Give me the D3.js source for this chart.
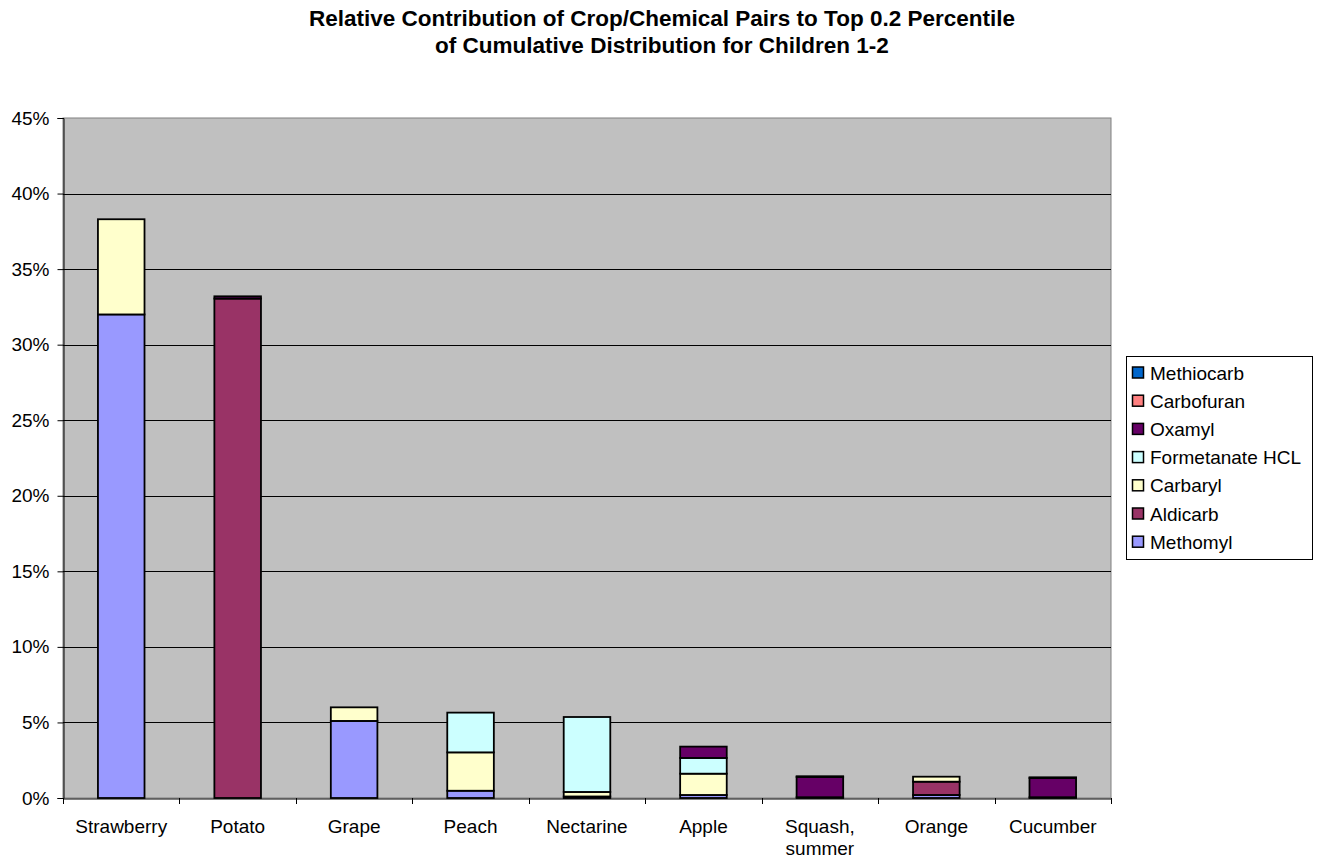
<!DOCTYPE html>
<html>
<head>
<meta charset="utf-8">
<script src="https://cdn.jsdelivr.net/npm/d3@7"></script>
<style>
  html, body { margin: 0; padding: 0; background: #ffffff; }
  svg { display: block; font-family: Arial, "Liberation Sans", sans-serif; }
</style>
</head>
<body>
<svg id="chart" width="1321" height="861"></svg>
<script>
// Crops along the x axis
const crops = ["Strawberry", "Potato", "Grape", "Peach", "Nectarine", "Apple", "Squash, summer", "Orange", "Cucumber"];

// Chemicals, stacked bottom to top
const chemicals = ["Methomyl", "Aldicarb", "Carbaryl", "Formetanate HCL", "Oxamyl", "Carbofuran", "Methiocarb"];

// Percent contribution of each chemical, per crop (same order as crops)
const methomyl    = [32.0, 0,    5.1, 0.48, 0.1,  0.2,  0.05, 0.2,  0.05];
const aldicarb    = [0,    33.05, 0,   0,    0,    0,    0,    0.88, 0];
const carbaryl    = [6.3,  0,    0.9, 2.54, 0.3,  1.41, 0,    0.33, 0];
const formetanate = [0,    0,    0,   2.63, 4.96, 1.04, 0,    0,    0];
const oxamyl      = [0,    0.15, 0,   0,    0,    0.75, 1.34, 0,    1.27];
const carbofuran  = [0,    0,    0,   0,    0,    0,    0.05, 0,    0.05];
const methiocarb  = [0,    0,    0,   0,    0,    0,    0,    0,    0];

const colors = ["#9999FF", "#993366", "#FFFFCC", "#CCFFFF", "#660066", "#FF8080", "#0066CC"];

const yTicks = [0, 5, 10, 15, 20, 25, 30, 35, 40, 45];

const titleLines = [
  "Relative Contribution of Crop/Chemical Pairs to Top 0.2 Percentile",
  "of Cumulative Distribution for Children 1-2"
];

const series = [methomyl, aldicarb, carbaryl, formetanate, oxamyl, carbofuran, methiocarb];
const rows = crops.map((c, i) => {
  const r = { crop: c };
  chemicals.forEach((k, j) => { r[k] = series[j][i]; });
  return r;
});

const svg = d3.select("#chart");
const plot = { left: 63, right: 1111, top: 118, bottom: 798 };

const x = d3.scaleBand().domain(crops).range([plot.left, plot.right]).paddingInner(0.6).paddingOuter(0.3);
const xTickScale = d3.scaleBand().domain(crops).range([plot.left, plot.right]);
const y = d3.scaleLinear().domain([0, 45]).range([plot.bottom, plot.top]);

// Title
svg.append("g").selectAll("text").data(titleLines).join("text")
  .attr("x", 662).attr("y", (d, i) => 26 + i * 27)
  .attr("text-anchor", "middle")
  .attr("font-size", 22.5).attr("font-weight", "bold").attr("fill", "#000")
  .text(d => d);

// Plot area background
svg.append("rect")
  .attr("x", plot.left).attr("y", plot.top)
  .attr("width", plot.right - plot.left).attr("height", plot.bottom - plot.top)
  .attr("fill", "#C0C0C0").attr("stroke", "#808080").attr("stroke-width", 1);

// Gridlines
svg.append("g").selectAll("line").data(yTicks.filter(t => t > 0 && t < 45)).join("line")
  .attr("x1", plot.left).attr("x2", plot.right)
  .attr("y1", d => Math.round(y(d)) + 0.5).attr("y2", d => Math.round(y(d)) + 0.5)
  .attr("stroke", "#000").attr("stroke-width", 1);

// Stacked bars
const stack = d3.stack().keys(chemicals)(rows);
svg.append("g").selectAll("g").data(stack).join("g")
  .attr("fill", (d, i) => colors[i])
  .selectAll("rect").data(d => d.filter(s => s[1] - s[0] > 0)).join("rect")
  .attr("x", d => x(d.data.crop))
  .attr("width", x.bandwidth())
  .attr("y", d => y(d[1]))
  .attr("height", d => y(d[0]) - y(d[1]))
  .attr("stroke", "#000").attr("stroke-width", 1.8);

// Y axis
const yAxis = d3.axisLeft(y).tickValues(yTicks).tickFormat(d => d + "%").tickSize(6).tickPadding(8);
const yg = svg.append("g").attr("transform", `translate(${plot.left + 0.5},0)`).call(yAxis);
yg.select(".domain").attr("stroke", "#000");
yg.selectAll(".tick line").attr("stroke", "#000");
yg.selectAll(".tick text").attr("font-size", 19).attr("fill", "#000").attr("font-family", "Arial, 'Liberation Sans', sans-serif");

// X axis
const xAxis = d3.axisBottom(xTickScale).tickSize(0).tickFormat("");
const xg = svg.append("g").attr("transform", `translate(0,${plot.bottom + 0.5})`).call(xAxis);
xg.select(".domain").attr("stroke", "#000");
xg.selectAll(".tick").remove();

// Category boundary ticks
const boundaries = crops.map(c => xTickScale(c)).concat([plot.right]);
svg.append("g").selectAll("line").data(boundaries).join("line")
  .attr("x1", d => Math.round(d) + 0.5).attr("x2", d => Math.round(d) + 0.5)
  .attr("y1", plot.bottom).attr("y2", plot.bottom + 6)
  .attr("stroke", "#000");

// Category labels (wrapped at comma)
const labels = svg.append("g").selectAll("text").data(crops).join("text")
  .attr("x", d => xTickScale(d) + xTickScale.bandwidth() / 2)
  .attr("y", 833)
  .attr("text-anchor", "middle")
  .attr("font-size", 19).attr("fill", "#000");
labels.each(function(d) {
  const parts = d.includes(",") ? [d.slice(0, d.indexOf(",") + 1), d.slice(d.indexOf(",") + 1).trim()] : [d];
  d3.select(this).selectAll("tspan").data(parts).join("tspan")
    .attr("x", xTickScale(d) + xTickScale.bandwidth() / 2)
    .attr("dy", (p, i) => i === 0 ? 0 : 21.5)
    .text(p => p);
});

// Legend (top entry = last stacked series)
const legend = svg.append("g");
legend.append("rect")
  .attr("x", 1126.5).attr("y", 356.5).attr("width", 186).attr("height", 203)
  .attr("fill", "#fff").attr("stroke", "#000");
const legendItems = chemicals.map((c, i) => ({ name: c, color: colors[i] })).reverse();
const li = legend.selectAll("g.item").data(legendItems).join("g")
  .attr("transform", (d, i) => `translate(1132,${372.5 + i * 28.2})`);
li.append("rect")
  .attr("x", 0.5).attr("y", -5.5).attr("width", 11).attr("height", 11)
  .attr("fill", d => d.color).attr("stroke", "#000").attr("stroke-width", 1.5);
li.append("text")
  .attr("x", 18).attr("y", 7)
  .attr("font-size", 19).attr("fill", "#000")
  .text(d => d.name);
</script>
</body>
</html>
